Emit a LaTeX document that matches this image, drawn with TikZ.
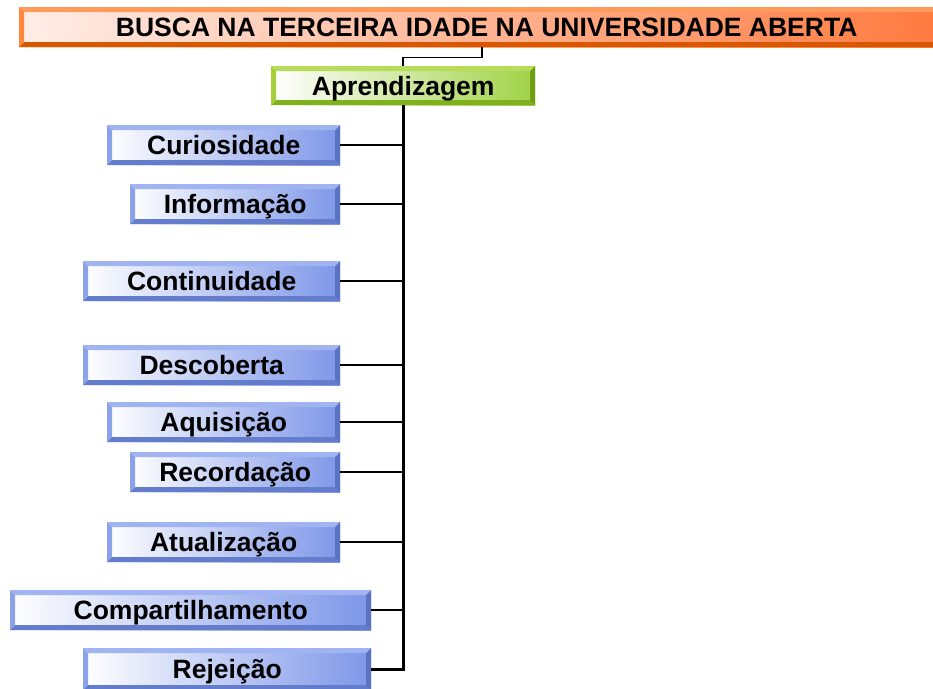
\documentclass[tikz,border=0pt]{standalone}
\usepackage{fontspec}
\setmainfont{Liberation Sans}
\usetikzlibrary{calc}
\definecolor{bTop}{RGB}{160,180,242}
\definecolor{bLeft}{RGB}{140,162,232}
\definecolor{bBot}{RGB}{100,124,204}
\definecolor{bRight}{RGB}{90,114,192}
\definecolor{bFill}{RGB}{125,150,232}
\definecolor{gTop}{RGB}{182,220,90}
\definecolor{gLeft}{RGB}{165,208,60}
\definecolor{gBot}{RGB}{128,176,30}
\definecolor{gRight}{RGB}{112,158,18}
\definecolor{gFill}{RGB}{160,210,70}
\definecolor{oTop}{RGB}{255,155,90}
\definecolor{oLeft}{RGB}{255,135,60}
\definecolor{oBot}{RGB}{216,88,0}
\definecolor{oRight}{RGB}{230,100,20}
\definecolor{oFill}{RGB}{255,120,60}
\definecolor{oPale}{RGB}{255,238,232}
\tikzset{
  bevelpic/.style n args={4}{path picture={
    \coordinate (oNW) at (path picture bounding box.north west);
    \coordinate (oNE) at (path picture bounding box.north east);
    \coordinate (oSW) at (path picture bounding box.south west);
    \coordinate (oSE) at (path picture bounding box.south east);
    \coordinate (iNW) at ([shift={(5pt,-5pt)}]path picture bounding box.north west);
    \coordinate (iNE) at ([shift={(-5pt,-5pt)}]path picture bounding box.north east);
    \coordinate (iSW) at ([shift={(5pt,5pt)}]path picture bounding box.south west);
    \coordinate (iSE) at ([shift={(-5pt,5pt)}]path picture bounding box.south east);
    \fill[#1] (oNW) -- (oNE) -- (iNE) -- (iNW) -- cycle;
    \fill[#2] (oNW) -- (oSW) -- (iSW) -- (iNW) -- cycle;
    \fill[#3] (oSW) -- (oSE) -- (iSE) -- (iSW) -- cycle;
    \fill[#4] (oNE) -- (oSE) -- (iSE) -- (iNE) -- cycle;
  }},
  basebox/.style={anchor=north west, inner sep=0pt, minimum height=40pt,
    text height=19pt, text depth=0pt, text=black,
    font=\fontsize{26.5}{28}\selectfont\bfseries},
  bluebox/.style={basebox, left color=white, right color=bFill,
    bevelpic={bTop}{bLeft}{bBot}{bRight}},
  greenbox/.style={basebox, left color=white, right color=gFill,
    bevelpic={gTop}{gLeft}{gBot}{gRight}},
  orangebox/.style={basebox, left color=oPale, right color=oFill,
    bevelpic={oTop}{oLeft}{oBot}{oRight}},
  branch/.style={draw=black, line width=1.6pt},
  trunk/.style={draw=black, line width=2.6pt},
}
\begin{document}
\begin{tikzpicture}[x=1pt,y=-1pt]
\useasboundingbox (0,0) rectangle (933,688);
\fill[white] (0,0) rectangle (933,688);
\node[orangebox, minimum width=935pt] (title) at (19,7) {BUSCA NA TERCEIRA IDADE NA UNIVERSIDADE ABERTA};
\node[greenbox, minimum width=264pt, minimum height=39pt] (aprend) at (271,66) {Aprendizagem};
\node[bluebox, minimum width=233pt] (curi) at (107,125) {Curiosidade};
\node[bluebox, minimum width=210pt] (info) at (130,184) {Informação};
\node[bluebox, minimum width=257pt] (cont) at (83,261) {Continuidade};
\node[bluebox, minimum width=257pt] (desc) at (83,345) {Descoberta};
\node[bluebox, minimum width=233pt] (aqui) at (107,402) {Aquisição};
\node[bluebox, minimum width=210pt] (reco) at (130,452) {Recordação};
\node[bluebox, minimum width=233pt] (atua) at (107,522) {Atualização};
\node[bluebox, minimum width=361pt] (comp) at (10,590) {Compartilhamento};
\node[bluebox, minimum width=288pt, minimum height=42pt] (reje) at (83,648) {Rejeição};
% title to Aprendizagem
\draw[branch] ([xshift=-5pt]title.south) -- ++(0,10) -| (aprend.north);
% trunk
\draw[trunk] (aprend.south) |- (reje.east);
\foreach \n in {curi,info,cont,desc,aqui,reco,atua,comp}{
  \draw[branch] (\n.east) -- (\n.east -| aprend.south);
}
\end{tikzpicture}
\end{document}
